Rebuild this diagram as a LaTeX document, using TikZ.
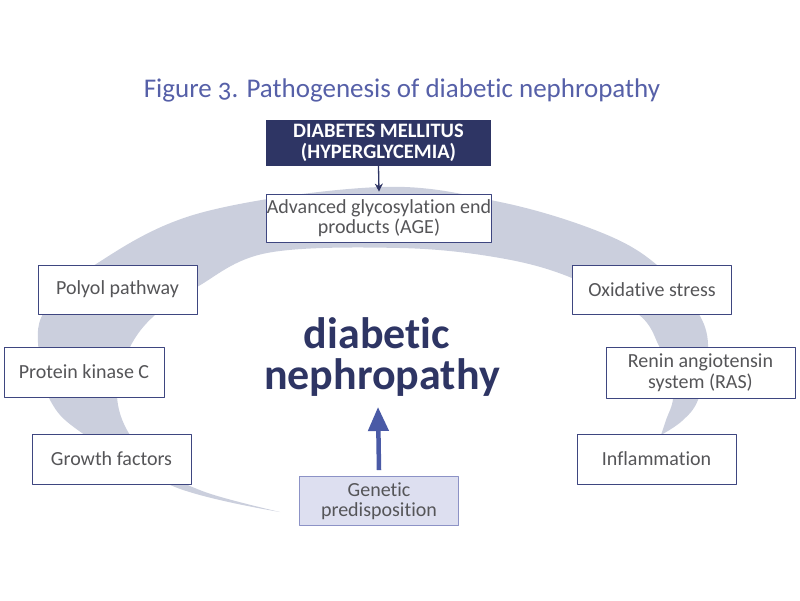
\documentclass[tikz,border=0pt]{standalone}
\usepackage{fontspec}
\setmainfont{Carlito}[Ligatures=NoCommon]
\usetikzlibrary{arrows.meta}

\definecolor{bandgray}{RGB}{203,207,221}
\definecolor{navy}{RGB}{46,53,100}
\definecolor{boxline}{RGB}{62,70,128}
\definecolor{txtgray}{RGB}{85,85,88}
\definecolor{titleblue}{RGB}{86,96,168}
\definecolor{arrowblue}{RGB}{74,90,166}
\definecolor{genfill}{RGB}{221,223,240}
\definecolor{genline}{RGB}{140,146,198}

\tikzset{
  factor/.style={draw=boxline, line width=0.8pt, fill=white, text=txtgray,
    minimum width=159pt, minimum height=49pt, inner sep=0pt, align=center,
    font=\fontsize{20}{20.5}\selectfont},
  causebox/.style={fill=navy, text=white, minimum width=225pt, minimum height=46pt,
    inner sep=0pt, align=center, font=\fontsize{20.5}{20.5}\selectfont\bfseries},
  bigword/.style={text=navy, anchor=base, inner sep=0pt, font=\fontsize{44}{44}\selectfont\bfseries},
}

\begin{document}
\begin{tikzpicture}[x=1pt, y=-1pt, >=Stealth, line join=round]
  \useasboundingbox (0,0) rectangle (800,600);
  % --- crescent band ---
  \fill[bandgray] plot[smooth, tension=0.6] coordinates {(280,512) (175,487) (82,433)
      (50,400) (39,355) (44,312) (93,266) (200,213) (380,187) (500,202) (600,232)
      (657,265) (700,316) (708,356) (698,400) (682,421) (661,435)}
    -- plot[smooth, tension=0.6] coordinates {(661,435) (666,420) (673,398) (668,370)
      (659,346) (638,314) (572,278) (500,258) (400,248) (267,253) (197,287)
      (155,315) (130,347) (117,390) (127,430) (160,468) (205,492) (280,512)}
    -- cycle;
  % --- title ---
  \node[text=titleblue, font=\fontsize{27}{29}\selectfont, anchor=base] (title) at (402,97)
    {Figure {\addfontfeatures{Numbers=OldStyle}3}. Pathogenesis of diabetic nephropathy};
  % --- cause ---
  \node[causebox] (dm) at (378.5,143) {DIABETES MELLITUS\\(HYPERGLYCEMIA)};
  \node[factor, minimum width=224pt, minimum height=48pt] (age) at (379,218)
    {Advanced glycosylation end\\products (AGE)};
  \draw[->, navy, line width=1.3pt, >={Stealth[length=8pt,width=8pt]}] (dm.south) -- ([yshift=2pt]age.north);
  % --- left factors ---
  \node[factor] (polyol) at (117.5,289.5) {Polyol pathway};
  \node[factor, minimum width=160pt, minimum height=50pt] (pkc) at (84,372) {Protein kinase C};
  \node[factor, minimum height=50pt] (growth) at (111.5,459) {Growth factors};
  % --- right factors ---
  \node[factor] (oxid) at (652,289.5) {Oxidative stress};
  \node[factor, minimum width=189pt, minimum height=51pt] (ras) at (700.5,372.5)
    {Renin angiotensin\\system (RAS)};
  \node[factor, minimum height=50pt] (infl) at (656.5,459) {Inflammation};
  % --- centre ---
  \node[bigword, text depth=0pt] (dia) at (377,348) {diabetic};
  \node[bigword] (neph) at (382,389) {nephropathy};
  \node[factor, fill=genfill, draw=genline] (gen) at (379,501) {Genetic\\predisposition};
  \coordinate (tip) at (378,407);
  \draw[arrowblue, line width=4.5pt, -{Triangle[length=24pt,width=20pt]}]
    ([yshift=6pt]gen.north) -- (tip);
\end{tikzpicture}
\end{document}
